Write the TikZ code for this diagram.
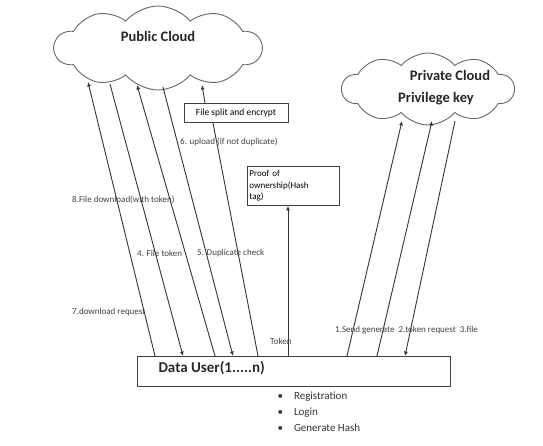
\documentclass[tikz,border=0pt]{standalone}
\usepackage{fontspec}
\setmainfont{Carlito}
\usetikzlibrary{positioning,shapes.symbols,arrows.meta}

\begin{document}
\begin{tikzpicture}[x=1pt, y=-1pt,
		cloudnode/.style={cloud, cloud puffs=10, cloud puff arc=100, draw=gray!80!black, line width=0.9pt, fill=white, aspect=2.8, inner sep=0pt},
		smalltxt/.style={font=\fontsize{9}{10}\selectfont, inner sep=0pt, text=black!75, anchor=west},
		bigtxt/.style={font=\bfseries\fontsize{14.5}{15}\selectfont, text=black!85},
		boxnode/.style={draw=black!75, line width=0.8pt, inner sep=0pt},
		arr/.style={-{Latex[length=4.5pt,width=4pt]}, line width=0.9pt, draw=black!80},
		plain/.style={line width=0.9pt, draw=black!80}]
		\useasboundingbox (0,0) rectangle (543,445);
		% clouds
		\node[cloudnode, minimum width=207pt, minimum height=84pt] (pub) at (158,48) {};
		\node[bigtxt] (pubtxt) at (158,36) {Public Cloud};
		\node[cloudnode, minimum width=172pt, minimum height=72pt] (priv) at (428,89) {};
		\node[bigtxt] (privtxt) at (450,75) {Private Cloud};
		\node[bigtxt] (privkey) at (436,99) {Privilege key};
		% boxes
		\node[boxnode, minimum width=313pt, minimum height=30pt] (user) at (293.5,371) {};
		\node[bigtxt, font=\bfseries\fontsize{15}{16}\selectfont, anchor=west] (usertxt) at (155,368) {Data User(1.....n)};
		\node[boxnode, minimum width=104pt, minimum height=19pt, font=\fontsize{9.5}{10}\selectfont] (split) at (236,113) {File split and encrypt};
		\node[boxnode, minimum width=92pt, minimum height=39pt, align=left, anchor=north west, text width=88pt, font=\fontsize{9}{11.5}\selectfont] (proof) at (247,166) {Proof of\\ ownership(Hash\\ tag)};
		% end points
		\coordinate (c1) at (88,82);
		\coordinate (c2) at (110,84);
		\coordinate (c3) at (137,85);
		\coordinate (c4) at (163,87);
		\coordinate (c5) at (202,85);
		\coordinate (u1) at (155,356);
		\coordinate (u2) at (183,356);
		\coordinate (u3) at (215,356);
		\coordinate (u4) at (233,356);
		\coordinate (u5) at (258,356);
		\coordinate (u6) at (288,356);
		\coordinate (u7) at (347,356);
		\coordinate (u8) at (377,356);
		\coordinate (u9) at (405,356);
		\coordinate (s1) at (205,103);
		\coordinate (s2) at (213,123);
		\coordinate (p1) at (402,121);
		\coordinate (p2) at (432,121);
		\coordinate (p3) at (455,121);
		% connectors
		\draw[arr] (u1) -- (c1);
		\draw[arr] (c2) -- (u2);
		\draw[arr] (u3) -- (c3);
		\draw[arr] (c4) -- (u4);
		\draw[plain] (u5) -- (s2);
		\draw[arr] (s1) -- (c5);
		\draw[arr] (u6) -- (proof.south -| u6);
		\draw[arr] (u7) -- (p1);
		\draw[arr] (u8) -- (p2);
		\draw[arr] (p3) -- (u9);
		% labels
		\node[smalltxt] (l8) at (72,200) {8.File download(with token)};
		\node[smalltxt] (l4) at (137,253) {4. File token};
		\node[smalltxt] (l5) at (197,253) {5. Duplicate check};
		\node[smalltxt] (l6) at (180,142) {6. upload (if not duplicate)};
		\node[smalltxt] (l7) at (72,312) {7.download request};
		\node[smalltxt] (ltok) at (270,341) {Token};
		\node[smalltxt] (l1) at (335,330) {1.Send generate \ 2.token request \ 3.file};
		% bullet list
		\node[font=\fontsize{11}{12}\selectfont, anchor=west, text=black!80] (b1) at (274,397) {\textbullet\hspace{11pt}Registration};
		\node[font=\fontsize{11}{12}\selectfont, anchor=west, text=black!80] (b2) at (274,413) {\textbullet\hspace{11pt}Login};
		\node[font=\fontsize{11}{12}\selectfont, anchor=west, text=black!80] (b3) at (274,428) {\textbullet\hspace{11pt}Generate Hash};
	\end{tikzpicture}
\end{document}
